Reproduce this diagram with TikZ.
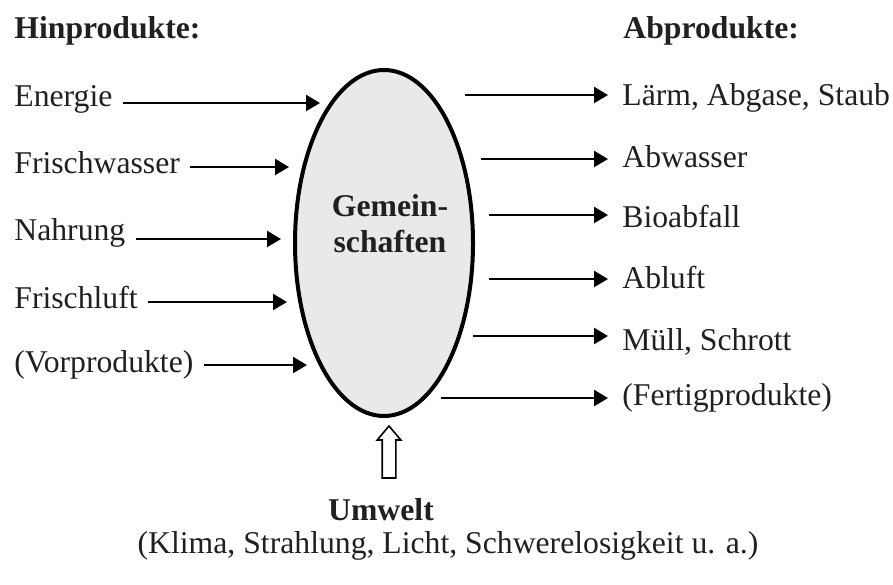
\documentclass[tikz,border=0pt]{standalone}
\usepackage{fontspec}
\setmainfont{Liberation Serif}
\usetikzlibrary{arrows.meta, shapes.geometric, shapes.arrows}
\definecolor{inkgray}{HTML}{231F20}
\definecolor{cellgray}{HTML}{E9E9E9}

\begin{document}
\begin{tikzpicture}[x=0.5pt, y=-0.5pt, >={Triangle[length=7pt, width=8pt]},
  every node/.style={text=inkgray, font=\fontsize{15.85}{18}\selectfont},
  lbl/.style={inner xsep=0pt, inner ysep=2pt},
  headlbl/.style={lbl, font=\fontsize{15.85}{18}\selectfont\bfseries},
  inflow/.style={->, line width=1.2pt, shorten <=5pt},
  outflow/.style={->, line width=1.2pt, shorten >=7pt}]

% Frame
\useasboundingbox (0,0) rectangle (893,584);

% Headings
\node[headlbl, anchor=base west] (hin) at (14,38) {Hinprodukte:};
\node[headlbl, anchor=base west] (ab) at (623,38) {Abprodukte:};

% Community
\node[draw=black, ellipse, line width=2pt, fill=cellgray, inner sep=0pt,
      minimum width=89pt, minimum height=173pt] (gemeinschaft) at (384,243) {};
\node[font=\fontsize{15.85}{18}\selectfont\bfseries, align=center]
      (gemtext) at (390,224) {Gemein-\\schaften};

% Inputs
\coordinate (e1) at (320,103);
\coordinate (e2) at (289,167);
\coordinate (e3) at (281,239);
\coordinate (e4) at (287,302);
\coordinate (e5) at (307,365);
\node[lbl, anchor=base west] (energie) at (14,106) {Energie};
\node[lbl, anchor=base west] (frischwasser) at (14,173) {Frischwasser};
\node[lbl, anchor=base west] (nahrung) at (14,240) {Nahrung};
\node[lbl, anchor=base west] (frischluft) at (14,308) {Frischluft};
\node[lbl, anchor=base west] (vorprodukte) at (14,372) {(Vorprodukte)};
\draw[inflow] (energie.east |- e1) -- (e1);
\draw[inflow] (frischwasser.east |- e2) -- (e2);
\draw[inflow] (nahrung.east |- e3) -- (e3);
\draw[inflow] (frischluft.east |- e4) -- (e4);
\draw[inflow] (vorprodukte.east |- e5) -- (e5);

% Outputs
\coordinate (s1) at (465,95);
\coordinate (s2) at (481,159);
\coordinate (s3) at (489,215);
\coordinate (s4) at (489,279);
\coordinate (s5) at (473,336);
\coordinate (s6) at (441,398);
\node[lbl, anchor=base west] (laerm) at (622,105) {Lärm, Abgase, Staub};
\node[lbl, anchor=base west] (abwasser) at (622,167) {Abwasser};
\node[lbl, anchor=base west] (bioabfall) at (622,227) {Bioabfall};
\node[lbl, anchor=base west] (abluft) at (622,288) {Abluft};
\node[lbl, anchor=base west] (muell) at (622,350) {Müll, Schrott};
\node[lbl, anchor=base west] (fertig) at (622,405) {(Fertigprodukte)};
\draw[outflow] (s1) -- (laerm.west |- s1);
\draw[outflow] (s2) -- (abwasser.west |- s2);
\draw[outflow] (s3) -- (bioabfall.west |- s3);
\draw[outflow] (s4) -- (abluft.west |- s4);
\draw[outflow] (s5) -- (muell.west |- s5);
\draw[outflow] (s6) -- (fertig.west |- s6);

% Environment
\node[draw=black, line width=0.8pt, fill=white, single arrow, shape border rotate=90,
      inner sep=3pt, minimum height=26pt, minimum width=11pt,
      single arrow head extend=2.5pt, single arrow tip angle=80]
      (umweltpfeil) at (389,456) {};
\node[headlbl, anchor=base] (umwelt) at (381,520) {Umwelt};
\node[lbl, anchor=base] (faktoren) at (448,553)
      {(Klima, Strahlung, Licht, Schwerelosigkeit u. a.)};

\end{tikzpicture}
\end{document}
